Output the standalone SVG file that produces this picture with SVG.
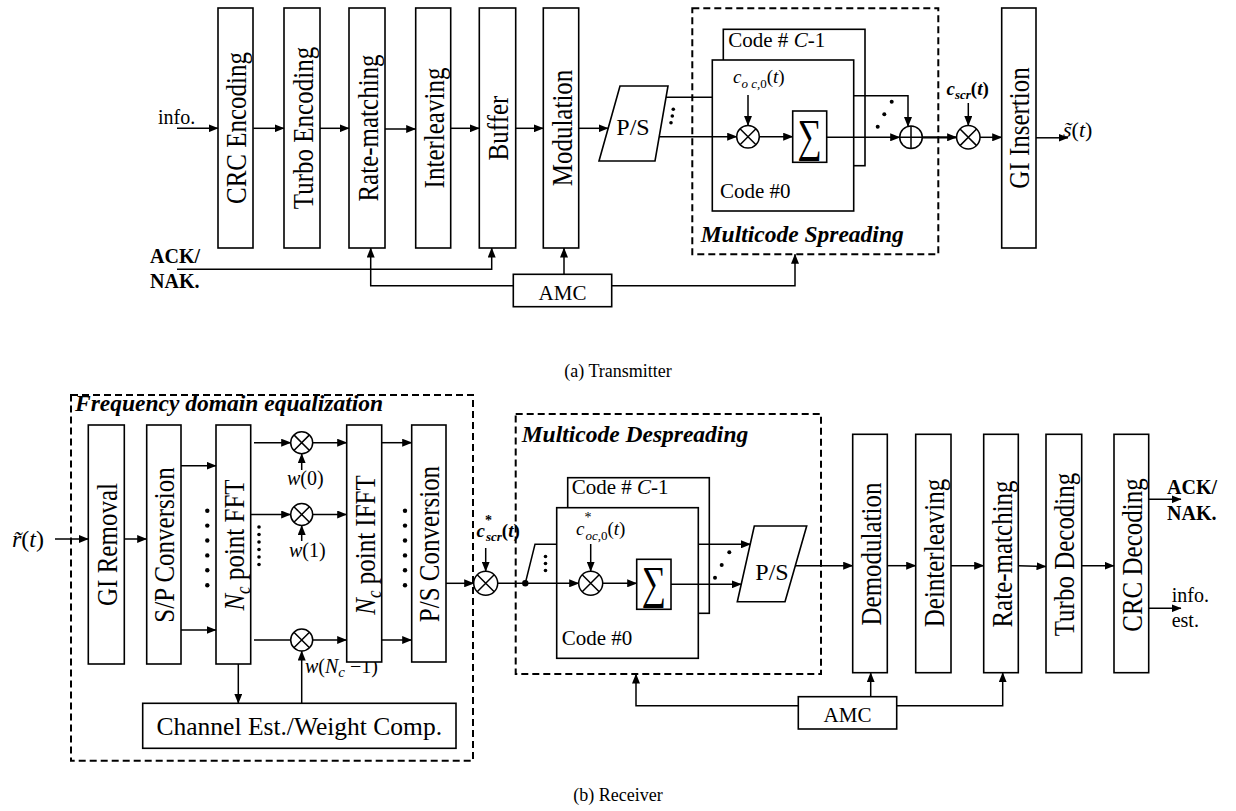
<svg xmlns="http://www.w3.org/2000/svg" width="1236" height="811" viewBox="0 0 1236 811">
<style>
.box{fill:#fff;stroke:#000;stroke-width:1.6}
.ln{fill:none;stroke:#000;stroke-width:1.5}
.dash{fill:none;stroke:#000;stroke-width:2;stroke-dasharray:7 4}
.t{font-family:"Liberation Serif","Times New Roman",serif;fill:#000}
.vl{font-family:"Liberation Serif","Times New Roman",serif;fill:#000;font-size:25px;text-anchor:middle}
.it{font-style:italic}
.bi{font-style:italic;font-weight:bold}
.dot{fill:#000}
.op{fill:#fff;stroke:#000;stroke-width:1.5}
</style>
<defs>
<marker id="ar" markerUnits="userSpaceOnUse" markerWidth="10" markerHeight="8" refX="9.5" refY="4" orient="auto">
<path d="M0,0 L10,4 L0,8 z" fill="#000"/>
</marker>
</defs>

<!-- ================= TRANSMITTER ================= -->
<g id="tx-info-label"><text class="t" x="158" y="124" font-size="20">info.</text></g>
<g id="tx-ack-label"><text class="t" x="150" y="263" font-size="20" font-weight="bold">ACK/</text><text class="t" x="150" y="288" font-size="20" font-weight="bold">NAK.</text></g>

<g id="crc-enc"><rect class="box" x="218" y="8" width="35" height="240"/><text class="vl" transform="translate(246,128) rotate(-90) scale(1,1.2)">CRC Encoding</text></g>
<g id="turbo-enc"><rect class="box" x="284" y="8" width="36" height="240"/><text class="vl" transform="translate(312.5,128) rotate(-90) scale(1,1.2)">Turbo Encoding</text></g>
<g id="rate-match-tx"><rect class="box" x="349" y="8" width="36" height="240"/><text class="vl" transform="translate(377.5,128) rotate(-90) scale(1,1.2)">Rate-matching</text></g>
<g id="interleaving"><rect class="box" x="415.7" y="8" width="35" height="240"/><text class="vl" transform="translate(443.5,128) rotate(-90) scale(1,1.2)">Interleaving</text></g>
<g id="buffer"><rect class="box" x="479.3" y="8" width="36.4" height="240"/><text class="vl" transform="translate(508,128) rotate(-90) scale(1,1.2)">Buffer</text></g>
<g id="modulation"><rect class="box" x="543.3" y="8" width="35.4" height="240"/><text class="vl" transform="translate(571.5,128) rotate(-90) scale(1,1.2)">Modulation</text></g>
<g id="ps-tx"><path class="box" d="M620,86 L668,86 L655,161 L599,161 Z"/><text class="t" x="633" y="135" font-size="24" text-anchor="middle">P/S</text></g>

<g id="multicode-spreading">
<rect class="dash" x="692.3" y="8.3" width="246" height="246"/>
<text class="t bi" x="700.7" y="241.7" font-size="23.5">Multicode Spreading</text>
<rect class="box" x="723.3" y="29.3" width="141.7" height="136.4"/>
<text class="t" x="728.3" y="46.7" font-size="21">Code # <tspan class="it">C</tspan>-1</text>
<rect class="box" x="712.3" y="60" width="141.4" height="151"/>
<text class="t" x="720" y="197.7" font-size="21">Code #0</text>
<text class="t it" x="733" y="83" font-size="19" fill="#333">c<tspan font-size="13" dy="5">o c</tspan><tspan font-size="13" font-style="normal">,0</tspan><tspan dy="-5" font-style="normal">(</tspan>t<tspan font-style="normal">)</tspan></text>
<rect class="box" x="792.7" y="111" width="34" height="51.3"/>
<text class="t" transform="translate(809.7,151) scale(1,1.35)" font-size="34" text-anchor="middle">∑</text>
</g>
<g id="mult-oc-tx"><circle class="op" cx="748" cy="136.7" r="11.3"/><path class="ln" d="M740,128.7 L756,144.7 M756,128.7 L740,144.7"/></g>
<g id="adder-tx"><circle class="op" cx="911" cy="137.3" r="11.3"/><path class="ln" d="M911,126 L911,148.6 M899.7,137.3 L922.3,137.3"/></g>
<g id="mult-scr-tx"><circle class="op" cx="968.3" cy="137.3" r="11.7"/><path class="ln" d="M960,129 L976.6,145.6 M976.6,129 L960,145.6"/></g>
<g id="cscr-label"><text class="t bi" x="946.5" y="95" font-size="19">c<tspan font-size="13" dy="4">scr</tspan><tspan dy="-4" font-style="normal">(</tspan>t<tspan font-style="normal">)</tspan></text></g>
<g id="gi-insertion"><rect class="box" x="1001.7" y="8" width="34.3" height="240"/><text class="vl" transform="translate(1029,128) rotate(-90) scale(1,1.2)">GI Insertion</text></g>
<g id="s-out-label"><text class="t it" x="1063" y="137" font-size="22">s&#x303;<tspan font-style="normal">(</tspan>t<tspan font-style="normal">)</tspan></text></g>
<g id="amc-tx"><rect class="box" x="513.3" y="274.3" width="98.4" height="32.4"/><text class="t" x="562.5" y="300" font-size="21" text-anchor="middle">AMC</text></g>

<g id="caption-a"><text class="t" x="618" y="377" font-size="18" text-anchor="middle">(a) Transmitter</text></g>

<!-- ================= RECEIVER ================= -->
<g id="fde">
<rect class="dash" x="71" y="395" width="402" height="365.7"/>
<text class="t bi" x="75" y="411" font-size="23.5">Frequency domain equalization</text>
</g>
<g id="r-in-label"><text class="t it" x="12" y="547" font-size="24">r&#x303;<tspan font-style="normal">(</tspan>t<tspan font-style="normal">)</tspan></text></g>
<g id="gi-removal"><rect class="box" x="88.3" y="425" width="36" height="239"/><text class="vl" transform="translate(116.5,544.5) rotate(-90) scale(1,1.2)">GI Removal</text></g>
<g id="sp-conv"><rect class="box" x="146.7" y="425" width="34.3" height="239"/><text class="vl" transform="translate(174,545) rotate(-90) scale(1,1.2)">S/P Conversion</text></g>
<g id="fft"><rect class="box" x="216" y="425" width="34.7" height="239"/><text class="vl" transform="translate(243.5,545) rotate(-90) scale(1,1.2)"><tspan class="it">N</tspan><tspan font-size="17" dy="5" class="it">c</tspan><tspan dy="-5"> point FFT</tspan></text></g>
<g id="mult-w0"><circle class="op" cx="301.7" cy="442.7" r="11"/><path class="ln" d="M293.9,434.9 L309.5,450.5 M309.5,434.9 L293.9,450.5"/></g>
<g id="mult-w1"><circle class="op" cx="301.7" cy="514.5" r="11"/><path class="ln" d="M293.9,506.7 L309.5,522.3 M309.5,506.7 L293.9,522.3"/></g>
<g id="mult-wn"><circle class="op" cx="301.7" cy="640" r="11"/><path class="ln" d="M293.9,632.2 L309.5,647.8 M309.5,632.2 L293.9,647.8"/></g>
<g id="w-labels">
<text class="t" x="287" y="485" font-size="20"><tspan class="it">w</tspan>(0)</text>
<text class="t" x="289" y="557" font-size="20"><tspan class="it">w</tspan>(1)</text>
<text class="t" x="305" y="673" font-size="20"><tspan class="it">w</tspan>(<tspan class="it">N</tspan><tspan class="it" font-size="15" dy="4">c</tspan><tspan dy="-4"> −1)</tspan></text>
</g>
<g id="ifft"><rect class="box" x="346.7" y="425" width="35" height="237"/><text class="vl" transform="translate(374.5,545) rotate(-90) scale(1,1.2)"><tspan class="it">N</tspan><tspan font-size="17" dy="5" class="it">c</tspan><tspan dy="-5"> point IFFT</tspan></text></g>
<g id="ps-conv"><rect class="box" x="411.7" y="425" width="34.3" height="237"/><text class="vl" transform="translate(439,544) rotate(-90) scale(1,1.2)">P/S Conversion</text></g>
<g id="channel-est"><rect class="box" x="142.7" y="703.3" width="313.3" height="45"/><text class="t" x="299.3" y="735" font-size="25.5" text-anchor="middle">Channel Est./Weight Comp.</text></g>
<g id="mult-scr-rx"><circle class="op" cx="485.7" cy="583.3" r="12"/><path class="ln" d="M477.2,574.8 L494.2,591.8 M494.2,574.8 L477.2,591.8"/></g>
<g id="cscr-conj-label"><text class="t bi" x="476.5" y="537" font-size="19">c<tspan font-size="14" font-style="normal" dy="-12">*</tspan><tspan font-size="13" dx="-6" dy="16">scr</tspan><tspan dy="-4" font-style="normal">(</tspan>t<tspan font-style="normal">)</tspan></text></g>

<g id="multicode-despreading">
<rect class="dash" x="515.7" y="414" width="305.3" height="260"/>
<text class="t bi" x="521.7" y="441.7" font-size="23.5">Multicode Despreading</text>
<rect class="box" x="567.7" y="477.7" width="141.6" height="135.6"/>
<text class="t" x="571.7" y="494" font-size="21">Code # <tspan class="it">C</tspan>-1</text>
<rect class="box" x="556.7" y="507.7" width="141.6" height="150.6"/>
<text class="t" x="561.7" y="645" font-size="21">Code #0</text>
<text class="t it" x="576" y="535" font-size="19" fill="#333">c<tspan font-size="14" font-style="normal" dy="-13">*</tspan><tspan font-size="13" dx="-6" dy="18">oc</tspan><tspan font-size="13" font-style="normal">,0</tspan><tspan dy="-5" font-style="normal">(</tspan>t<tspan font-style="normal">)</tspan></text>
<rect class="box" x="636.7" y="559.3" width="34.3" height="50"/>
<text class="t" transform="translate(653.8,598) scale(1,1.35)" font-size="34" text-anchor="middle">∑</text>
</g>
<g id="mult-oc-rx"><circle class="op" cx="590.7" cy="583.3" r="12"/><path class="ln" d="M582.2,574.8 L599.2,591.8 M599.2,574.8 L582.2,591.8"/></g>
<g id="ps-rx"><path class="box" d="M754.3,526 L806.7,526 L785,601.7 L737.3,601.7 Z"/><text class="t" x="772" y="580" font-size="24" text-anchor="middle">P/S</text></g>

<g id="demodulation"><rect class="box" x="852.7" y="434.3" width="34.6" height="238.4"/><text class="vl" transform="translate(880.5,554) rotate(-90) scale(1,1.2)">Demodulation</text></g>
<g id="deinterleaving"><rect class="box" x="915.7" y="434.3" width="35.3" height="238.4"/><text class="vl" transform="translate(943.5,553) rotate(-90) scale(1,1.2)">Deinterleaving</text></g>
<g id="rate-match-rx"><rect class="box" x="983.7" y="434.3" width="34.6" height="238.4"/><text class="vl" transform="translate(1011.5,554) rotate(-90) scale(1,1.2)">Rate-matching</text></g>
<g id="turbo-dec"><rect class="box" x="1046" y="434.3" width="35.7" height="238.4"/><text class="vl" transform="translate(1074,554.5) rotate(-90) scale(1,1.2)">Turbo Decoding</text></g>
<g id="crc-dec"><rect class="box" x="1114" y="434.3" width="34.7" height="238.4"/><text class="vl" transform="translate(1141.5,555) rotate(-90) scale(1,1.2)">CRC Decoding</text></g>
<g id="rx-ack-label"><text class="t" x="1167" y="494" font-size="20" font-weight="bold">ACK/</text><text class="t" x="1167" y="519.5" font-size="20" font-weight="bold">NAK.</text></g>
<g id="rx-info-label"><text class="t" x="1171.7" y="601.7" font-size="20">info.</text><text class="t" x="1171.7" y="626.7" font-size="20">est.</text></g>
<g id="amc-rx"><rect class="box" x="798.3" y="696.7" width="98.4" height="32.3"/><text class="t" x="847.5" y="721.7" font-size="21" text-anchor="middle">AMC</text></g>

<g id="caption-b"><text class="t" x="618" y="801" font-size="18" text-anchor="middle">(b) Receiver</text></g>

<!-- ================= CONNECTORS ================= -->
<g id="connectors">
<path class="ln" marker-end="url(#ar)" d="M177,128.3 L218,128.3"/>
<path class="ln" marker-end="url(#ar)" d="M253.3,128.3 L284,128.3"/>
<path class="ln" marker-end="url(#ar)" d="M320,128.3 L349,128.3"/>
<path class="ln" marker-end="url(#ar)" d="M385,129 L415.7,129"/>
<path class="ln" marker-end="url(#ar)" d="M450.7,128.3 L479.3,128.3"/>
<path class="ln" marker-end="url(#ar)" d="M515.7,128.3 L543.3,128.3"/>
<path class="ln" marker-end="url(#ar)" d="M578.7,128.3 L608,128.3"/>
<path class="ln" d="M666,97.3 L712.3,97.3"/>
<path class="ln" marker-end="url(#ar)" d="M659,136.7 L736.7,136.7"/>
<path class="ln" marker-end="url(#ar)" d="M748,95 L748,125.4"/>
<path class="ln" marker-end="url(#ar)" d="M759.3,136.7 L792.7,136.7"/>
<path class="ln" marker-end="url(#ar)" d="M826.7,137.3 L899.7,137.3"/>
<path class="ln" marker-end="url(#ar)" d="M853.7,95.7 L908,95.7 L908,126.5"/>
<path class="ln" style="stroke-width:2.2" marker-end="url(#ar)" d="M922.3,137.3 L956.6,137.3"/>
<path class="ln" marker-end="url(#ar)" d="M968.3,103 L968.3,125.6"/>
<path class="ln" marker-end="url(#ar)" d="M980,137.3 L1001.7,137.3"/>
<path class="ln" marker-end="url(#ar)" d="M1036,137.8 L1068,137.8"/>
<path class="ln" marker-end="url(#ar)" d="M177,269.3 L491.7,269.3 L491.7,248"/>
<path class="ln" marker-end="url(#ar)" d="M513.3,285.7 L370.7,285.7 L370.7,248"/>
<path class="ln" marker-end="url(#ar)" d="M564,274.3 L564,248"/>
<path class="ln" marker-end="url(#ar)" d="M611.7,285.7 L795,285.7 L795,254.3"/>
<circle class="dot" cx="673.3" cy="109.3" r="1.8"/>
<circle class="dot" cx="672.3" cy="116" r="1.8"/>
<circle class="dot" cx="671" cy="122.7" r="1.8"/>
<circle class="dot" cx="891.7" cy="101.7" r="2"/>
<circle class="dot" cx="884.3" cy="114.3" r="2"/>
<circle class="dot" cx="877.7" cy="126.7" r="2"/>

<path class="ln" marker-end="url(#ar)" d="M55,539 L88.3,539"/>
<path class="ln" marker-end="url(#ar)" d="M124.3,539 L146.7,539"/>
<path class="ln" marker-end="url(#ar)" d="M181,465.7 L216,465.7"/>
<path class="ln" marker-end="url(#ar)" d="M181,630 L216,630"/>
<path class="ln" marker-end="url(#ar)" d="M254,442.7 L290.7,442.7"/>
<path class="ln" marker-end="url(#ar)" d="M250.7,514.5 L290.7,514.5"/>
<path class="ln" d="M254,640 L290.7,640"/>
<path class="ln" marker-end="url(#ar)" d="M312.7,442.7 L346.7,442.7"/>
<path class="ln" marker-end="url(#ar)" d="M312.7,514.5 L346.7,514.5"/>
<path class="ln" marker-end="url(#ar)" d="M312.7,640 L346.7,640"/>
<path class="ln" marker-end="url(#ar)" d="M301.7,470 L301.7,453.7"/>
<path class="ln" marker-end="url(#ar)" d="M301.7,541 L301.7,525.5"/>
<path class="ln" marker-end="url(#ar)" d="M301.7,703.3 L301.7,651"/>
<path class="ln" marker-end="url(#ar)" d="M238.3,664 L238.3,703.3"/>
<path class="ln" marker-end="url(#ar)" d="M381.7,442.7 L411.7,442.7"/>
<path class="ln" marker-end="url(#ar)" d="M381.7,640 L411.7,640"/>
<path class="ln" marker-end="url(#ar)" d="M446,583.3 L473.7,583.3"/>
<path class="ln" marker-end="url(#ar)" d="M485.7,548 L485.7,571.3"/>
<circle class="dot" cx="207.3" cy="510.7" r="2.2"/>
<circle class="dot" cx="207.3" cy="525.6" r="2.2"/>
<circle class="dot" cx="207.3" cy="540.5" r="2.2"/>
<circle class="dot" cx="207.3" cy="555.4" r="2.2"/>
<circle class="dot" cx="207.3" cy="570.3" r="2.2"/>
<circle class="dot" cx="207.3" cy="585.2" r="2.2"/>
<circle class="dot" cx="405" cy="510.7" r="2.2"/>
<circle class="dot" cx="405" cy="525.6" r="2.2"/>
<circle class="dot" cx="405" cy="540.5" r="2.2"/>
<circle class="dot" cx="405" cy="555.4" r="2.2"/>
<circle class="dot" cx="405" cy="570.3" r="2.2"/>
<circle class="dot" cx="405" cy="585.2" r="2.2"/>
<circle class="dot" cx="259" cy="527" r="1.8"/>
<circle class="dot" cx="259" cy="534.5" r="1.8"/>
<circle class="dot" cx="259" cy="542" r="1.8"/>
<circle class="dot" cx="259" cy="549.5" r="1.8"/>
<circle class="dot" cx="259" cy="557" r="1.8"/>
<circle class="dot" cx="259" cy="564.5" r="1.8"/>
<path class="ln" marker-end="url(#ar)" d="M497.7,583.3 L578.7,583.3"/>
<circle class="dot" cx="525.3" cy="583.3" r="3.2"/>
<path class="ln" d="M525.3,583.3 L535,544.3 L556.7,544.3"/>
<circle class="dot" cx="545.5" cy="556.5" r="1.8"/>
<circle class="dot" cx="545.5" cy="563.5" r="1.8"/>
<circle class="dot" cx="545.5" cy="570.5" r="1.8"/>
<path class="ln" marker-end="url(#ar)" d="M590.7,544 L590.7,571.3"/>
<path class="ln" marker-end="url(#ar)" d="M602.7,583.3 L636.7,583.3"/>
<path class="ln" marker-end="url(#ar)" d="M671,584.3 L741.3,584.3"/>
<path class="ln" marker-end="url(#ar)" d="M698.3,544.3 L750.5,544.3"/>
<circle class="dot" cx="729.3" cy="552.3" r="2"/>
<circle class="dot" cx="721.7" cy="565" r="2"/>
<circle class="dot" cx="715" cy="577.7" r="2"/>
<path class="ln" marker-end="url(#ar)" d="M795.3,565.7 L852.7,565.7"/>
<path class="ln" marker-end="url(#ar)" d="M887.3,565.7 L915.7,565.7"/>
<path class="ln" marker-end="url(#ar)" d="M951,565.7 L983.7,565.7"/>
<path class="ln" marker-end="url(#ar)" d="M1018.3,565.7 L1046,566.5"/>
<path class="ln" marker-end="url(#ar)" d="M1081.7,565.7 L1114,565.7"/>
<path class="ln" marker-end="url(#ar)" d="M1148.7,499.3 L1181,499.3"/>
<path class="ln" marker-end="url(#ar)" d="M1148.7,608.3 L1181,608.3"/>
<path class="ln" marker-end="url(#ar)" d="M798.3,705.7 L636,705.7 L636,674"/>
<path class="ln" marker-end="url(#ar)" d="M870.7,696.7 L870.7,672.7"/>
<path class="ln" marker-end="url(#ar)" d="M896.7,705.7 L1002.7,705.7 L1002.7,672.7"/>
</g>
</svg>
